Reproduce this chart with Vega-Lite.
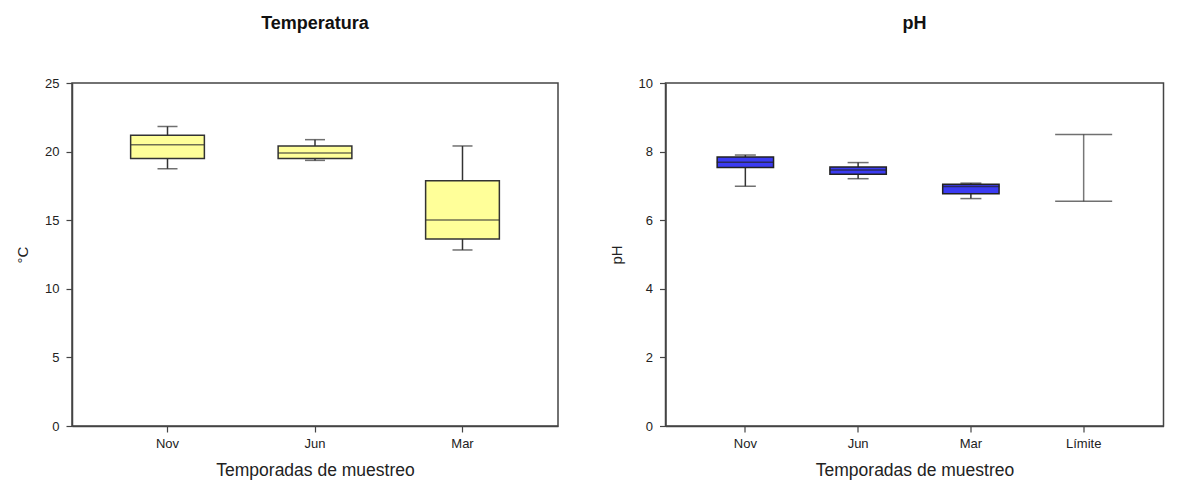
{
  "$schema": "https://vega.github.io/schema/vega-lite/v6.json",
  "background": "white",
  "padding": {"left": 14, "top": 14, "right": 0, "bottom": 0},
  "spacing": 48.5,
  "datasets": {
    "temp": [
      {"mes": "Nov", "min": 18.75, "q1": 19.5, "med": 20.5, "q3": 21.2, "max": 21.83},
      {"mes": "Jun", "min": 19.36, "q1": 19.5, "med": 19.9, "q3": 20.41, "max": 20.87},
      {"mes": "Mar", "min": 12.83, "q1": 13.63, "med": 15.02, "q3": 17.88, "max": 20.41}
    ],
    "ph": [
      {"mes": "Nov", "min": 6.99, "q1": 7.54, "med": 7.69, "q3": 7.84, "max": 7.9},
      {"mes": "Jun", "min": 7.21, "q1": 7.34, "med": 7.46, "q3": 7.55, "max": 7.68},
      {"mes": "Mar", "min": 6.63, "q1": 6.77, "med": 6.98, "q3": 7.05, "max": 7.08},
      {"mes": "Límite", "min": 6.55, "q1": null, "med": null, "q3": null, "max": 8.5}
    ]
  },
  "config": {
    "font": "Liberation Sans",
    "view": {"stroke": "#444", "strokeWidth": 1.5},
    "axis": {
      "grid": false,
      "domainColor": "#444",
      "domainWidth": 1.5,
      "tickColor": "#444",
      "tickWidth": 1.2,
      "tickSize": 6,
      "labelFontSize": 13,
      "labelColor": "#222",
      "titleColor": "#222",
      "titleFontWeight": "normal"
    },
    "axisX": {"labelAngle": 0, "labelPadding": 5, "titleFontSize": 17.5, "titlePadding": 11},
    "axisY": {"labelPadding": 7, "titleFontSize": 15, "titlePadding": 14},
    "title": {"fontSize": 18, "fontWeight": "bold", "color": "#111", "offset": 44, "anchor": "middle"}
  },
  "hconcat": [
    {
      "width": 486,
      "height": 343,
      "title": "Temperatura",
      "data": {"name": "temp"},
      "encoding": {
        "x": {
          "field": "mes",
          "type": "nominal",
          "sort": null,
          "scale": {"paddingInner": 0.5, "paddingOuter": 0.3975},
          "axis": {"title": "Temporadas de muestreo"}
        }
      },
      "layer": [
        {
          "mark": {"type": "rule", "color": "#333", "strokeWidth": 1.5},
          "encoding": {
            "y": {"field": "min", "type": "quantitative", "title": "°C", "scale": {"domain": [0, 25]}, "axis": {"values": [0, 5, 10, 15, 20, 25]}},
            "y2": {"field": "max"}
          }
        },
        {
          "mark": {"type": "tick", "color": "#333", "size": 20, "thickness": 1.5},
          "encoding": {
            "y": {"field": "min", "type": "quantitative", "title": "°C", "scale": {"domain": [0, 25]}, "axis": {"values": [0, 5, 10, 15, 20, 25]}}
          }
        },
        {
          "mark": {"type": "tick", "color": "#333", "size": 20, "thickness": 1.5},
          "encoding": {
            "y": {"field": "max", "type": "quantitative", "title": "°C", "scale": {"domain": [0, 25]}, "axis": {"values": [0, 5, 10, 15, 20, 25]}}
          }
        },
        {
          "mark": {"type": "bar", "fill": "#ffff99", "stroke": "#333", "strokeWidth": 1.5},
          "encoding": {
            "y": {"field": "q1", "type": "quantitative", "title": "°C", "scale": {"domain": [0, 25]}, "axis": {"values": [0, 5, 10, 15, 20, 25]}},
            "y2": {"field": "q3"}
          }
        },
        {
          "mark": {"type": "tick", "color": "#333", "size": 74, "thickness": 1.5},
          "encoding": {
            "y": {"field": "med", "type": "quantitative", "title": "°C", "scale": {"domain": [0, 25]}, "axis": {"values": [0, 5, 10, 15, 20, 25]}}
          }
        }
      ]
    },
    {
      "width": 498,
      "height": 343,
      "title": "pH",
      "data": {"name": "ph"},
      "encoding": {
        "x": {
          "field": "mes",
          "type": "nominal",
          "sort": null,
          "scale": {"paddingInner": 0.5, "paddingOuter": 0.458},
          "axis": {"title": "Temporadas de muestreo"}
        }
      },
      "layer": [
        {
          "mark": {"type": "rule", "strokeWidth": 1.5},
          "encoding": {
            "y": {"field": "min", "type": "quantitative", "title": "pH", "scale": {"domain": [0, 10]}, "axis": {"values": [0, 2, 4, 6, 8, 10]}},
            "y2": {"field": "max"},
            "color": {"condition": {"test": "datum.mes === 'Límite'", "value": "#777"}, "value": "#333"}
          }
        },
        {
          "mark": {"type": "tick", "color": "#333", "thickness": 1.5},
          "encoding": {
            "y": {"field": "min", "type": "quantitative", "title": "pH", "scale": {"domain": [0, 10]}, "axis": {"values": [0, 2, 4, 6, 8, 10]}},
            "size": {"condition": {"test": "datum.mes === 'Límite'", "value": 57}, "value": 21}
          }
        },
        {
          "mark": {"type": "tick", "color": "#333", "thickness": 1.5},
          "encoding": {
            "y": {"field": "max", "type": "quantitative", "title": "pH", "scale": {"domain": [0, 10]}, "axis": {"values": [0, 2, 4, 6, 8, 10]}},
            "size": {"condition": {"test": "datum.mes === 'Límite'", "value": 57}, "value": 21}
          }
        },
        {
          "mark": {"type": "bar", "fill": "#3b3bf2", "stroke": "#222", "strokeWidth": 1.5},
          "encoding": {
            "y": {"field": "q1", "type": "quantitative", "title": "pH", "scale": {"domain": [0, 10]}, "axis": {"values": [0, 2, 4, 6, 8, 10]}},
            "y2": {"field": "q3"}
          }
        },
        {
          "mark": {"type": "tick", "color": "#222", "size": 57, "thickness": 1.5},
          "encoding": {
            "y": {"field": "med", "type": "quantitative", "title": "pH", "scale": {"domain": [0, 10]}, "axis": {"values": [0, 2, 4, 6, 8, 10]}}
          }
        }
      ]
    }
  ]
}
